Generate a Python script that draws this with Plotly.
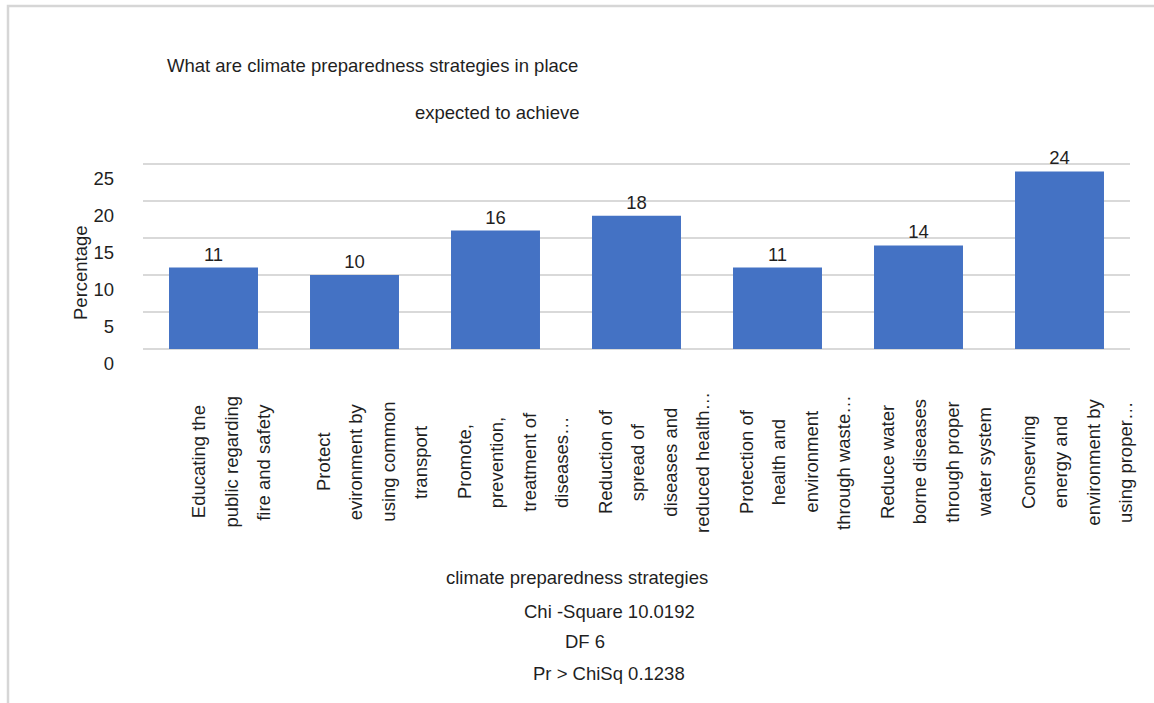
import plotly.graph_objects as go

# Strategy labels, already wrapped into the lines shown under each bar
strategy_lines = [
    ["Educating the", "public regarding", "fire and safety"],
    ["Protect", "evironment by", "using common", "transport"],
    ["Promote,", "prevention,", "treatment of", "diseases…"],
    ["Reduction of", "spread of", "diseases and", "reduced health…"],
    ["Protection of", "health and", "environment", "through waste…"],
    ["Reduce water", "borne diseases", "through proper", "water system"],
    ["Conserving", "energy and", "environment by", "using proper…"],
]
categories = [" ".join(lines) for lines in strategy_lines]
percentages = [11, 10, 16, 18, 11, 14, 24]
y_ticks = [0, 5, 10, 15, 20, 25]

title_lines = ["What are climate preparedness strategies in place", "expected to achieve"]
x_title = "climate preparedness strategies"
y_title = "Percentage"
stats_lines = ["Chi -Square 10.0192", "DF 6", "Pr > ChiSq 0.1238"]

# Page geometry (pixels)
W_PAGE, H_PAGE = 1154, 703
M_L, M_R, M_T, M_B = 143, 24, 160, 354
PLOT_W = W_PAGE - M_L - M_R
PLOT_H = H_PAGE - M_T - M_B
PLOT_BOTTOM = H_PAGE - M_B


def px_x(px):
    return (px - M_L) / PLOT_W


def px_y(py):
    return (PLOT_BOTTOM - py) / PLOT_H


FONT = "Liberation Sans, Arial, sans-serif"
FS = 18.5
TXT = "#1f1f1f"
BLUE = "#4472C4"
GRID = "#d9d9d9"

fig = go.Figure(
    go.Bar(
        x=categories,
        y=percentages,
        marker=dict(color=BLUE, line=dict(width=0)),
        text=[str(v) for v in percentages],
        textposition="outside",
        textfont=dict(family=FONT, size=FS, color=TXT),
        cliponaxis=False,
        hoverinfo="skip",
    )
)

annotations = []

# Rotated, wrapped category labels below the axis
for cat, lines in zip(categories, strategy_lines):
    n = len(lines)
    for i, line in enumerate(lines):
        annotations.append(dict(
            x=cat, xref="x", y=0, yref="paper",
            xshift=17 + (i - (n - 1) / 2) * 32.3,
            yshift=-(462 - PLOT_BOTTOM),
            text=line, textangle=-90, showarrow=False,
            xanchor="center", yanchor="middle", align="center",
            font=dict(family=FONT, size=FS, color=TXT),
        ))

# Two-line chart title
annotations.append(dict(
    x=px_x(165), y=px_y(65), xref="paper", yref="paper",
    text=title_lines[0], showarrow=False, xanchor="left", yanchor="middle",
    font=dict(family=FONT, size=FS, color=TXT),
))
annotations.append(dict(
    x=px_x(582), y=px_y(112), xref="paper", yref="paper",
    text=title_lines[1], showarrow=False, xanchor="right", yanchor="middle",
    font=dict(family=FONT, size=FS, color=TXT),
))

# Y axis title
annotations.append(dict(
    x=px_x(80), y=px_y(273), xref="paper", yref="paper",
    text=y_title, textangle=-90, showarrow=False,
    xanchor="center", yanchor="middle",
    font=dict(family=FONT, size=FS, color=TXT),
))

# X axis title and test statistics
annotations.append(dict(
    x=px_x(576.5), y=px_y(577), xref="paper", yref="paper",
    text=x_title, showarrow=False, xanchor="center", yanchor="middle",
    font=dict(family=FONT, size=FS, color=TXT),
))
for text, cx, cy in zip(stats_lines, [609.5, 585, 608.5], [611, 641, 673]):
    annotations.append(dict(
        x=px_x(cx), y=px_y(cy), xref="paper", yref="paper",
        text=text, showarrow=False, xanchor="center", yanchor="middle",
        font=dict(family=FONT, size=FS, color=TXT),
    ))

# Light frame around the chart object
shapes = [dict(
    type="rect", xref="paper", yref="paper",
    x0=px_x(8), x1=px_x(1162), y0=px_y(712), y1=px_y(6),
    line=dict(color="#d6d6d6", width=2.5), fillcolor="rgba(0,0,0,0)",
    layer="below",
)]

fig.update_layout(
    width=W_PAGE, height=H_PAGE,
    margin=dict(l=M_L, r=M_R, t=M_T, b=M_B, pad=0),
    paper_bgcolor="white", plot_bgcolor="white",
    bargap=0.369,
    showlegend=False,
    font=dict(family=FONT, size=FS, color=TXT),
    annotations=annotations,
    shapes=shapes,
    xaxis=dict(
        range=[-0.5, len(categories) - 0.5],
        showticklabels=False, showgrid=False, zeroline=False,
        showline=False, ticks="", fixedrange=True,
    ),
    yaxis=dict(
        range=[0, PLOT_H / 7.4],
        tickvals=y_ticks,
        showgrid=True, gridcolor=GRID, gridwidth=2,
        zeroline=True, zerolinecolor=GRID, zerolinewidth=2,
        showline=False, ticks="",
        ticklabelshift=15, ticklabelstandoff=28,
        tickfont=dict(family=FONT, size=FS, color=TXT),
        fixedrange=True,
    ),
)

fig.write_html("out.html")
